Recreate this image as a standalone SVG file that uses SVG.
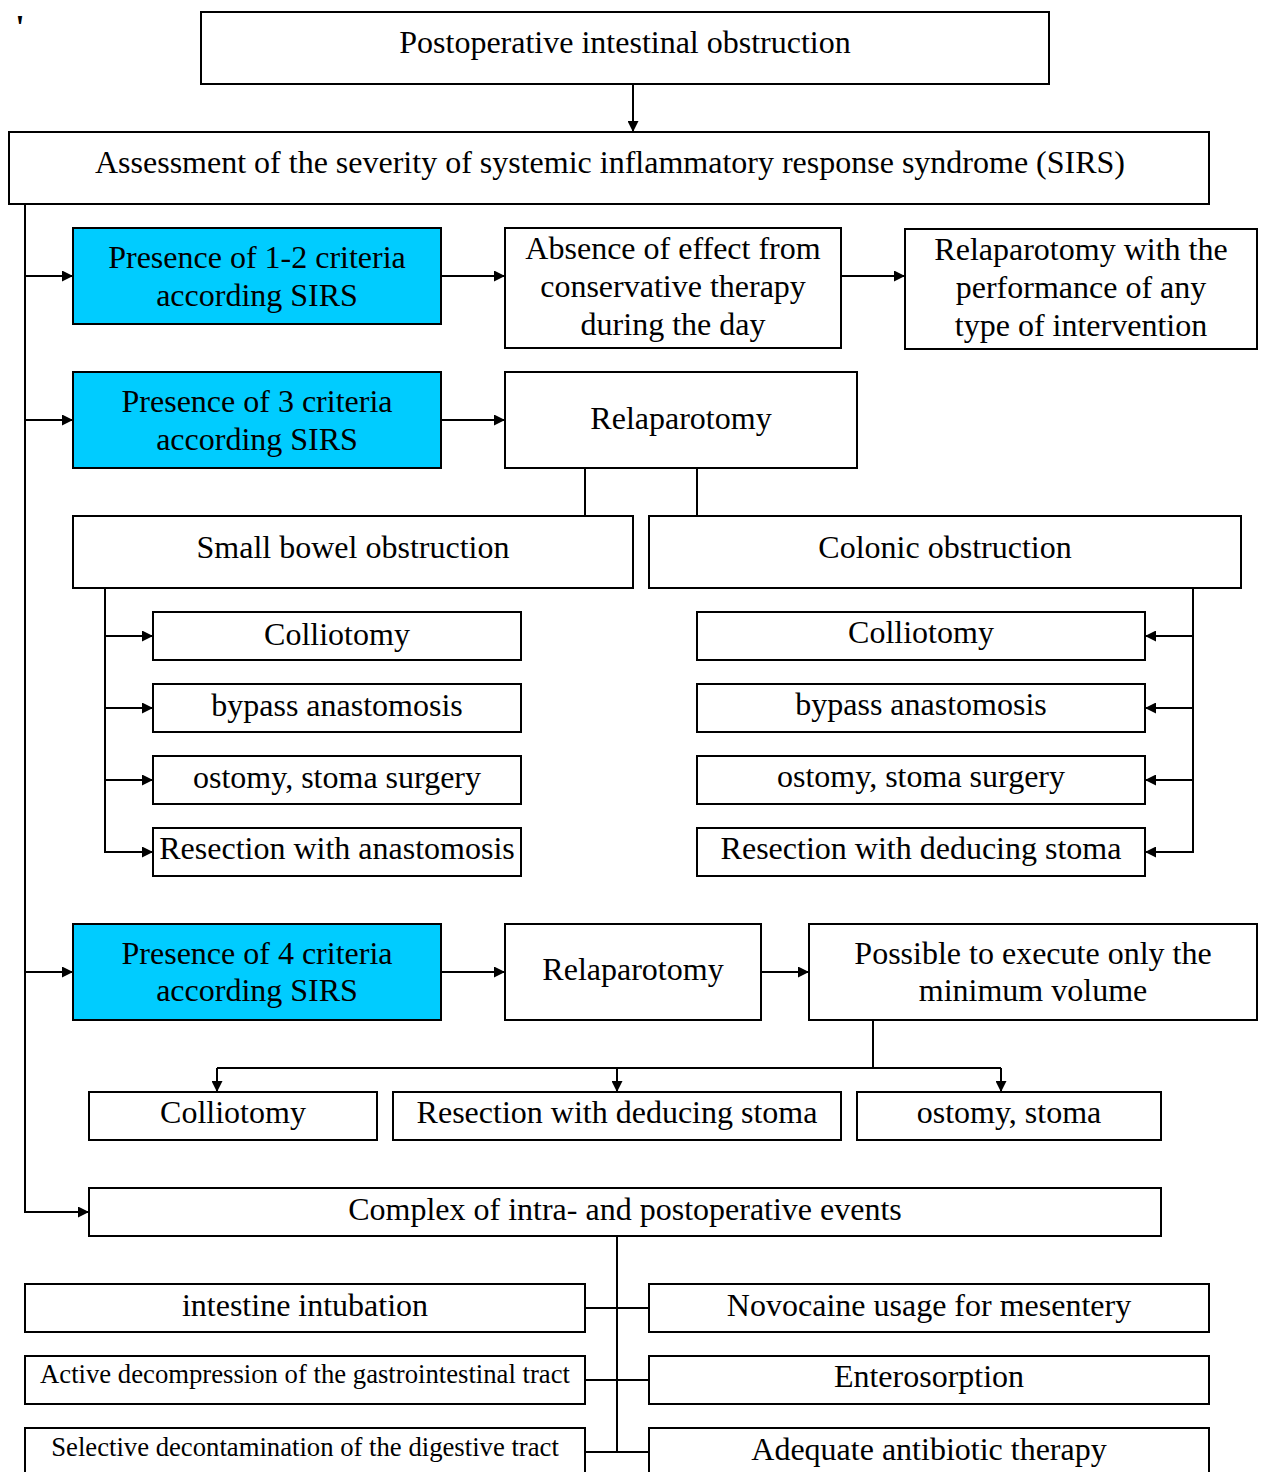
<svg xmlns="http://www.w3.org/2000/svg" width="1264" height="1472" viewBox="0 0 1264 1472">
<defs>
<marker id="ah" markerWidth="11" markerHeight="11" refX="11" refY="5.5" orient="auto" markerUnits="userSpaceOnUse">
<path d="M0,0 L11,5.5 L0,11 z" fill="#000"/>
</marker>
<style>
.b{fill:#fff;stroke:#000;stroke-width:2}
.c{fill:#00CCFF;stroke:#000;stroke-width:2}
text{font-family:"Liberation Serif","Times New Roman",serif;font-size:32px;fill:#000;text-anchor:middle}
.s{font-size:26.7px}
.ln{fill:none;stroke:#000;stroke-width:2}
.ar{fill:none;stroke:#000;stroke-width:2;marker-end:url(#ah)}
</style>
</defs>
<rect width="1264" height="1472" fill="#fff"/>
<text x="20" y="38" style="font-weight:bold;font-size:34px">'</text>

<g id="connectors">
<path class="ar" d="M633,84 V132"/>
<path class="ar" d="M25,204 V1212 H89"/>
<path class="ar" d="M25,276 H73"/>
<path class="ar" d="M25,420 H73"/>
<path class="ar" d="M25,972 H73"/>
<path class="ar" d="M441,276 H505"/>
<path class="ar" d="M841,276 H905"/>
<path class="ar" d="M441,420 H505"/>
<path class="ln" d="M585,468 V516 M697,468 V516"/>
<path class="ar" d="M105,588 V852 H153"/>
<path class="ar" d="M105,636 H153"/>
<path class="ar" d="M105,708 H153"/>
<path class="ar" d="M105,780 H153"/>
<path class="ar" d="M1193,588 V852 H1145"/>
<path class="ar" d="M1193,636 H1145"/>
<path class="ar" d="M1193,708 H1145"/>
<path class="ar" d="M1193,780 H1145"/>
<path class="ar" d="M441,972 H505"/>
<path class="ar" d="M761,972 H809"/>
<path class="ln" d="M873,1020 V1068 M217,1068 H1001"/>
<path class="ar" d="M217,1068 V1092"/>
<path class="ar" d="M617,1068 V1092"/>
<path class="ar" d="M1001,1068 V1092"/>
<path class="ln" d="M617,1236 V1452 M585,1308 H649 M585,1380 H649 M585,1452 H649"/>
</g>

<g id="n-title"><rect class="b" x="201" y="12" width="848" height="72"/><text x="625" y="53">Postoperative intestinal obstruction</text></g>
<g id="n-sirs"><rect class="b" x="9" y="132" width="1200" height="72"/><text x="610" y="173">Assessment of the severity of systemic inflammatory response syndrome (SIRS)</text></g>

<g id="n-c12"><rect class="c" x="73" y="228" width="368" height="96"/><text x="257" y="268">Presence of 1-2 criteria</text><text x="257" y="306">according SIRS</text></g>
<g id="n-absence"><rect class="b" x="505" y="228" width="336" height="120"/><text x="673" y="259">Absence of effect from</text><text x="673" y="297">conservative therapy</text><text x="673" y="335">during the day</text></g>
<g id="n-relap-any"><rect class="b" x="905" y="229" width="352" height="120"/><text x="1081" y="260">Relaparotomy with the</text><text x="1081" y="298">performance of any</text><text x="1081" y="336">type of intervention</text></g>

<g id="n-c3"><rect class="c" x="73" y="372" width="368" height="96"/><text x="257" y="412">Presence of 3 criteria</text><text x="257" y="450">according SIRS</text></g>
<g id="n-relap2"><rect class="b" x="505" y="372" width="352" height="96"/><text x="681" y="429">Relaparotomy</text></g>

<g id="n-small"><rect class="b" x="73" y="516" width="560" height="72"/><text x="353" y="558">Small bowel obstruction</text></g>
<g id="n-colonic"><rect class="b" x="649" y="516" width="592" height="72"/><text x="945" y="558">Colonic obstruction</text></g>

<g id="n-l1"><rect class="b" x="153" y="612" width="368" height="48"/><text x="337" y="645">Colliotomy</text></g>
<g id="n-l2"><rect class="b" x="153" y="684" width="368" height="48"/><text x="337" y="716">bypass anastomosis</text></g>
<g id="n-l3"><rect class="b" x="153" y="756" width="368" height="48"/><text x="337" y="788">ostomy, stoma surgery</text></g>
<g id="n-l4"><rect class="b" x="153" y="828" width="368" height="48"/><text x="337" y="859">Resection with anastomosis</text></g>

<g id="n-r1"><rect class="b" x="697" y="612" width="448" height="48"/><text x="921" y="643">Colliotomy</text></g>
<g id="n-r2"><rect class="b" x="697" y="684" width="448" height="48"/><text x="921" y="715">bypass anastomosis</text></g>
<g id="n-r3"><rect class="b" x="697" y="756" width="448" height="48"/><text x="921" y="787">ostomy, stoma surgery</text></g>
<g id="n-r4"><rect class="b" x="697" y="828" width="448" height="48"/><text x="921" y="859">Resection with deducing stoma</text></g>

<g id="n-c4"><rect class="c" x="73" y="924" width="368" height="96"/><text x="257" y="964">Presence of 4 criteria</text><text x="257" y="1001">according SIRS</text></g>
<g id="n-relap3"><rect class="b" x="505" y="924" width="256" height="96"/><text x="633" y="980">Relaparotomy</text></g>
<g id="n-possible"><rect class="b" x="809" y="924" width="448" height="96"/><text x="1033" y="964">Possible to execute only the</text><text x="1033" y="1001">minimum volume</text></g>

<g id="n-b1"><rect class="b" x="89" y="1092" width="288" height="48"/><text x="233" y="1123">Colliotomy</text></g>
<g id="n-b2"><rect class="b" x="393" y="1092" width="448" height="48"/><text x="617" y="1123">Resection with deducing stoma</text></g>
<g id="n-b3"><rect class="b" x="857" y="1092" width="304" height="48"/><text x="1009" y="1123">ostomy, stoma</text></g>

<g id="n-complex"><rect class="b" x="89" y="1188" width="1072" height="48"/><text x="625" y="1220">Complex of intra- and postoperative events</text></g>

<g id="n-e1"><rect class="b" x="25" y="1284" width="560" height="48"/><text x="305" y="1316">intestine intubation</text></g>
<g id="n-e2"><rect class="b" x="25" y="1356" width="560" height="48"/><text class="s" x="305" y="1383">Active decompression of the gastrointestinal tract</text></g>
<g id="n-e3"><rect class="b" x="25" y="1428" width="560" height="60"/><text class="s" x="305" y="1456">Selective decontamination of the digestive tract</text></g>
<g id="n-e4"><rect class="b" x="649" y="1284" width="560" height="48"/><text x="929" y="1316">Novocaine usage for mesentery</text></g>
<g id="n-e5"><rect class="b" x="649" y="1356" width="560" height="48"/><text x="929" y="1387">Enterosorption</text></g>
<g id="n-e6"><rect class="b" x="649" y="1428" width="560" height="60"/><text x="929" y="1460">Adequate antibiotic therapy</text></g>
</svg>
